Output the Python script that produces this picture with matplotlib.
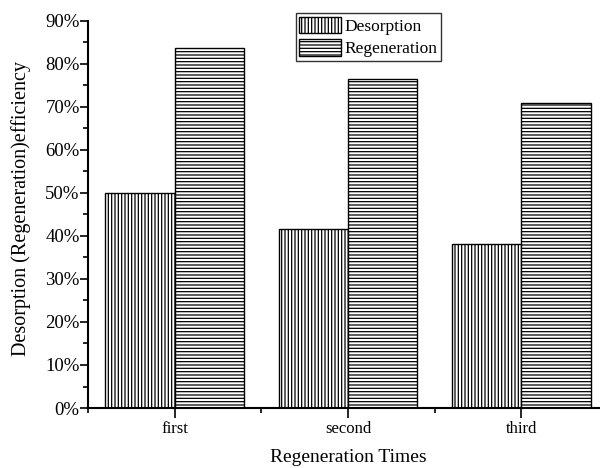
import matplotlib
matplotlib.use("Agg")
from matplotlib import pyplot as plt
from matplotlib.ticker import MultipleLocator, FuncFormatter
import numpy as np

plt.rcParams['font.family'] = ['Liberation Serif', 'DejaVu Serif']
plt.rcParams['hatch.linewidth'] = 0.9

categories = ["first", "second", "third"]
desorption = [50.1, 41.6, 38.1]
regeneration = [83.7, 76.5, 70.9]

fig = plt.figure(figsize=(6, 4.68), dpi=100)
ax = fig.add_axes([0.1467, 0.1282, 0.8667, 0.827])

x = np.arange(1, len(categories) + 1)
w = 0.4
ax.bar(x - w / 2, desorption, w, facecolor="white", edgecolor="black",
       linewidth=1.0, hatch="|||||", label="Desorption")
ax.bar(x + w / 2, regeneration, w, facecolor="white", edgecolor="black",
       linewidth=1.0, hatch="-----", label="Regeneration")

ax.set_xlim(0.5, 3.5)
ax.set_ylim(0, 90)
ax.set_xticks(x)
ax.set_xticklabels(categories, fontsize=12)
ax.xaxis.set_minor_locator(MultipleLocator(0.5))
ax.yaxis.set_major_locator(MultipleLocator(10))
ax.yaxis.set_minor_locator(MultipleLocator(5))
ax.yaxis.set_major_formatter(FuncFormatter(lambda v, p: "%d%%" % v))
ax.tick_params(axis="x", which="major", direction="out", length=7, width=1.2, labelsize=12, pad=2)
ax.tick_params(axis="y", which="major", direction="out", length=6, width=1.2, labelsize=13.5, pad=0)
ax.tick_params(axis="both", which="minor", direction="out", length=3.5, width=1.2)

for s in ["top", "right"]:
    ax.spines[s].set_visible(False)
for s in ["left", "bottom"]:
    ax.spines[s].set_linewidth(1.5)

ax.set_xlabel("Regeneration Times", fontsize=14, labelpad=9)
ax.set_ylabel("Desorption (Regeneration)efficiency", fontsize=14.5)
ax.yaxis.set_label_coords(-0.11, 0.515)

leg = ax.legend(loc="upper left", bbox_to_anchor=(0.493, 0.972), bbox_transform=fig.transFigure,
                fontsize=12.5, frameon=True, fancybox=False, edgecolor="black",
                handlelength=2.4, handleheight=1.1, handletextpad=0.2,
                labelspacing=0.25, borderpad=0.2, borderaxespad=0)
leg.get_frame().set_linewidth(1.0)

fig.savefig("out.png", dpi=100)
